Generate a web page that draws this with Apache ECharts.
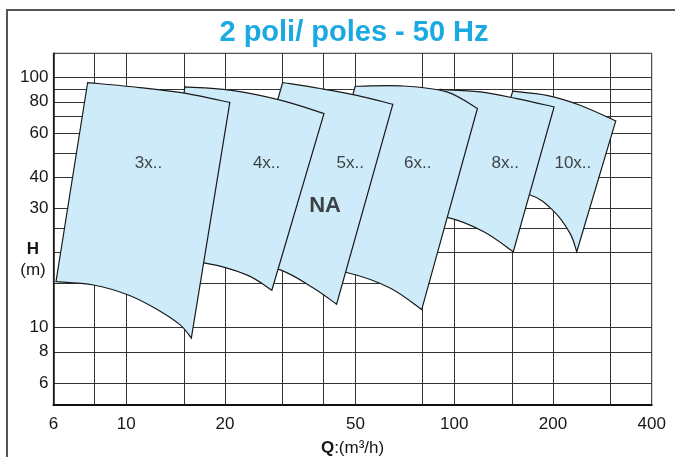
<!DOCTYPE html>
<html><head><meta charset="utf-8">
<script src="https://cdn.jsdelivr.net/npm/echarts@6/dist/echarts.min.js"></script>
<style>html,body{margin:0;padding:0;background:#fff}#c{width:675px;height:457px}</style>
</head><body><div id="c"></div>
<script>
// Pump families (Q in m3/h, H in m)
const families = ['3x..', '4x..', '5x..', '6x..', '8x..', '10x..'];
// top curves (left -> right)
const top3  = [[7.63, 95.5], [11.0, 91.2], [14.9, 86.8], [20.7, 79.5]];
const top4  = [[15.1, 91.7], [20.7, 89.0], [29.5, 81.2], [40.1, 71.8]];
const top5  = [[30.0, 95.5], [39.0, 90.4], [50.5, 84.9], [65.0, 78.2]];
const top6  = [[49.9, 92.3], [70.0, 92.5], [94.9, 87.6], [117.7, 75.2]];
const top8  = [[90.5, 89.6], [119.9, 87.6], [155.1, 82.4], [201.6, 76.3]];
const top10 = [[150.8, 88.2], [191.5, 84.9], [241.9, 77.5], [310.8, 67.1]];
// bottom curves (right tip -> left)
const bottom3  = [[15.8, 9.07], [14.6, 10.25], [12.4, 11.84], [10.15, 13.5], [7.94, 14.8], [6.11, 15.26]];
const bottom4  = [[27.8, 14.1], [23.3, 16.25], [17.4, 18.1], [12.7, 18.5]];
const bottom5  = [[43.8, 12.4], [37.2, 14.4], [29.5, 17.0], [21.0, 19.1]];
const bottom6  = [[79.6, 11.8], [63.7, 14.4], [47.0, 16.6], [35.1, 17.3]];
const bottom8  = [[151.4, 20.1], [122.7, 24.2], [95.8, 27.5], [70.8, 28.4]];
const bottom10 = [[236.4, 20.1], [225.5, 23.8], [201.6, 29.1], [170.3, 33.9], [122.4, 35.5]];
// label positions
const labelQ = [11.7, 26.8, 48.2, 77.4, 143, 230];
const labelH = [45.5, 45.5, 45.5, 45.5, 45.5, 45.5];
const naPoint = [40.4, 30.6];
// axes
const xGrid = [8, 10, 15, 20, 30, 40, 50, 80, 100, 150, 200, 300];
const xLabels = [6, 10, 20, 50, 100, 200, 400];
const yGrid = [6, 8, 10, 15, 20, 25, 30, 40, 50, 60, 70, 80, 90, 100];
const yLabels = [6, 8, 10, 30, 40, 60, 80, 100];

const tops = [top3, top4, top5, top6, top8, top10];
const bottoms = [bottom3, bottom4, bottom5, bottom6, bottom8, bottom10];
// draw right-to-left so left families lie on top
const order = [5, 4, 3, 2, 1, 0];

function smoothSeg(pts) {
  let d = '';
  for (let i = 0; i < pts.length - 1; i++) {
    const p0 = pts[Math.max(i - 1, 0)], p1 = pts[i], p2 = pts[i + 1], p3 = pts[Math.min(i + 2, pts.length - 1)];
    const c1 = [p1[0] + (p2[0] - p0[0]) / 6, p1[1] + (p2[1] - p0[1]) / 6];
    const c2 = [p2[0] - (p3[0] - p1[0]) / 6, p2[1] - (p3[1] - p1[1]) / 6];
    d += ' C' + c1[0] + ',' + c1[1] + ' ' + c2[0] + ',' + c2[1] + ' ' + p2[0] + ',' + p2[1];
  }
  return d;
}

const chart = echarts.init(document.getElementById('c'));
const font = 'Liberation Sans, Arial, sans-serif';
const txt = '#161616';
chart.setOption({
  animation: false,
  grid: { left: 53.4, right: 23.3, top: 53.3, bottom: 52, show: true, borderColor: '#222', borderWidth: 1, outerBoundsMode: 'none', containLabel: false },
  xAxis: {
    type: 'log', min: 6, max: 400, logBase: 10,
    name: '{b|Q}:(m³/h)', nameLocation: 'middle', nameGap: 35,
    nameTextStyle: { fontSize: 17, color: txt, fontFamily: font, rich: { b: { fontWeight: 'bold', fontSize: 17, color: txt, fontFamily: font } } },
    axisLine: { show: true, lineStyle: { color: '#111', width: 2 } },
    axisTick: { show: false, customValues: xGrid },
    axisLabel: { customValues: xLabels, fontSize: 17, color: txt, fontFamily: font, margin: 11, formatter: v => String(Math.round(v)) },
    splitLine: { show: true, lineStyle: { color: '#333', width: 1 } }
  },
  yAxis: {
    type: 'log', min: 4.9, max: 125, logBase: 10,
    axisLine: { show: true, lineStyle: { color: '#111', width: 1.5 } },
    axisTick: { show: false, customValues: yGrid },
    axisLabel: { customValues: yLabels, fontSize: 17, color: txt, fontFamily: font, margin: 5, formatter: v => String(Math.round(v)) },
    splitLine: { show: true, lineStyle: { color: '#333', width: 1 } }
  },
  graphic: [
    { type: 'rect', shape: { x: 7, y: 10, width: 720, height: 480 }, style: { fill: 'none', stroke: '#555', lineWidth: 2 }, silent: true },
    { type: 'text', x: 354, y: 33, style: { text: '2 poli/ poles - 50 Hz', font: 'bold 29px ' + font, fill: '#1ba9e1', align: 'center', verticalAlign: 'middle' } },
    { type: 'text', x: 33, y: 249, style: { text: 'H', font: 'bold 17px ' + font, fill: txt, align: 'center', verticalAlign: 'middle' } },
    { type: 'text', x: 33, y: 270, style: { text: '(m)', font: '17px ' + font, fill: txt, align: 'center', verticalAlign: 'middle' } }
  ],
  series: [
    {
      type: 'custom', coordinateSystem: 'cartesian2d', clip: true, z: 3,
      data: order.map(i => [labelQ[i], labelH[i], i]),
      encode: { x: 0, y: 1 },
      renderItem: function (params, api) {
        const i = api.value(2);
        const t = tops[i].map(p => api.coord(p));
        const b = bottoms[i].map(p => api.coord(p));
        const d = 'M' + t[0][0] + ',' + t[0][1] + smoothSeg(t) + ' L' + b[0][0] + ',' + b[0][1] + smoothSeg(b) + ' Z';
        return { type: 'path', shape: { pathData: d }, style: { fill: '#cdebf9', stroke: '#1a1a1a', lineWidth: 1.2 } };
      }
    },
    {
      type: 'scatter', symbolSize: 0, z: 5, silent: true,
      data: labelQ.map((q, i) => ({ value: [q, labelH[i]], name: families[i] })),
      label: { show: true, position: 'inside', formatter: p => p.name, fontSize: 17, color: txt, fontFamily: font }
    },
    {
      type: 'scatter', symbolSize: 0, z: 5, silent: true,
      data: [{ value: naPoint, name: 'NA' }],
      label: { show: true, position: 'inside', formatter: p => p.name, fontSize: 22, fontWeight: 'bold', color: txt, fontFamily: font }
    }
  ]
});
</script>
</body></html>
